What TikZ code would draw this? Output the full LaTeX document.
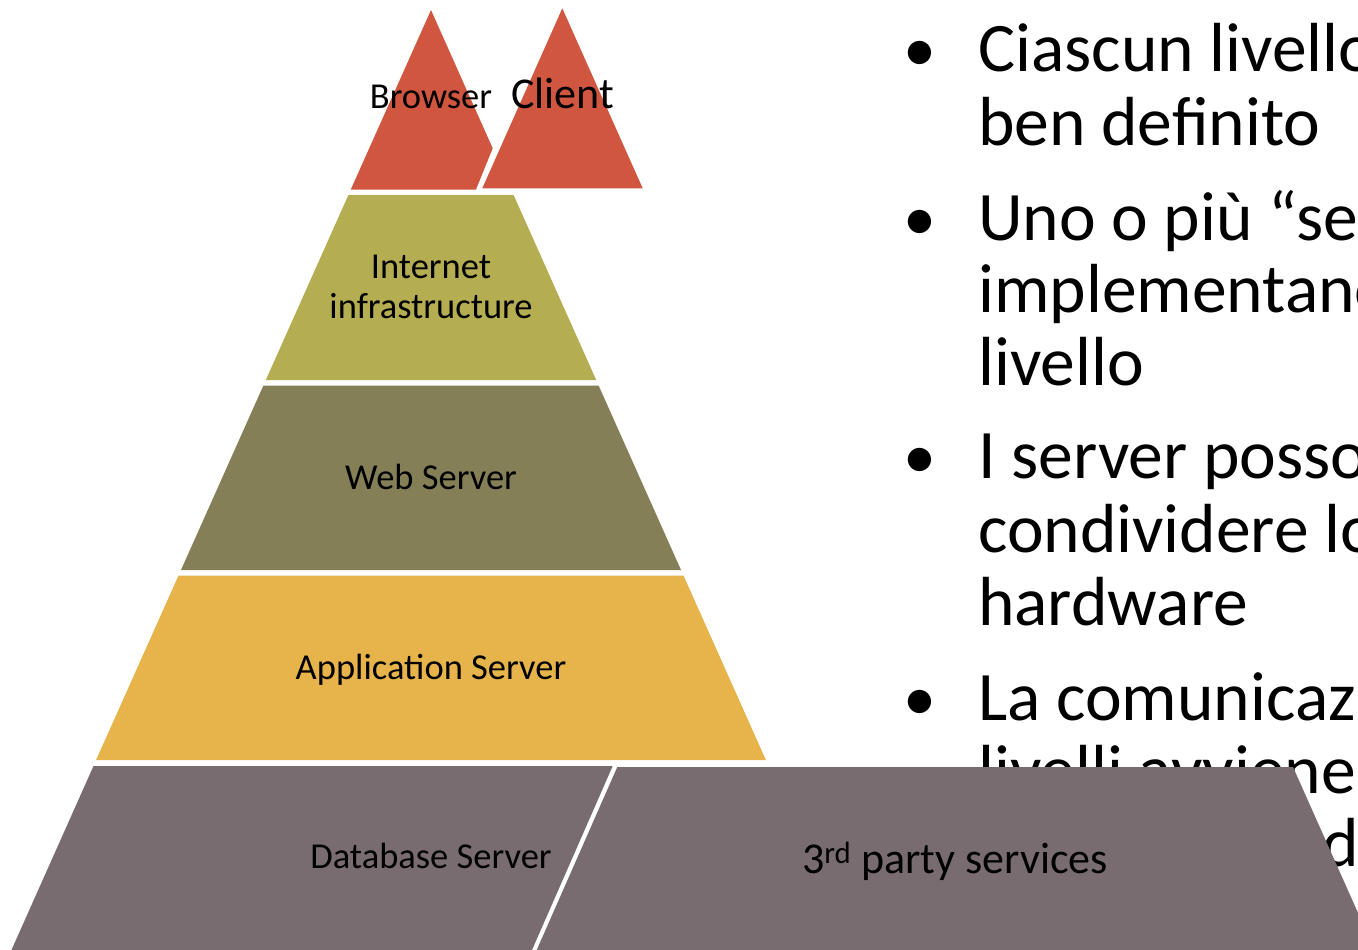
\documentclass[tikz,border=0pt]{standalone}
\usepackage{fontspec}
\setmainfont{Carlito}
\definecolor{tierred}{RGB}{208,86,64}
\definecolor{tierolive}{RGB}{181,173,82}
\definecolor{tierweb}{RGB}{132,127,86}
\definecolor{tiergold}{RGB}{231,180,76}
\definecolor{tiermauve}{RGB}{121,108,112}
\begin{document}
\begin{tikzpicture}[x=1pt,y=-1pt,
  lbl/.style={inner sep=0pt, anchor=base, text=black, font=\fontsize{36.5}{40}\selectfont},
  biglbl/.style={lbl, font=\fontsize{44}{48}\selectfont},
  bodytext/.style={inner sep=0pt, anchor=base west, text=black, font=\fontsize{69.5}{73}\selectfont},
  dot/.style={bodytext, font=\fontsize{66}{72}\selectfont},
]
\useasboundingbox (0,0) rectangle (1358,950);
\clip (0,0) rectangle (1358,950);

% bulleted text, set behind the tier shapes
\node[dot] (b1) at (903,72) {•};
\node[bodytext] (t1a) at (978,72) {Ciascun livello};
\node[bodytext] (t1b) at (978,145) {ben definito};
\node[dot] (b2) at (903,240) {•};
\node[bodytext] (t2a) at (978,240) {Uno o più “server”};
\node[bodytext] (t2b) at (978,312) {implementano};
\node[bodytext] (t2c) at (978,385) {livello};
\node[dot] (b3) at (903,478) {•};
\node[bodytext] (t3a) at (978,478) {I server possono};
\node[bodytext] (t3b) at (978,552) {condividere lo};
\node[bodytext] (t3c) at (978,625) {hardware};
\node[dot] (b4) at (903,720) {•};
\node[bodytext] (t4a) at (978,720) {La comunicazione};
\node[bodytext] (t4b) at (978,793) {livelli avviene};
\node[bodytext] (t4c) at (978,866) {secondo modalità ben definite};

% client tier: browser and client
\fill[tierred] (431,10) -- (492.7,148.3) -- (476,189.5) -- (350.8,189.5) -- cycle;
\fill[tierred] (562.3,8.3) -- (642.7,188.3) -- (482.3,188.3) -- cycle;

% pyramid tiers
\fill[tierolive] (348.4,195) -- (513.6,195) -- (596.2,380) -- (265.8,380) -- cycle;
\fill[tierweb] (263.4,385.5) -- (598.6,385.5) -- (681,570) -- (181,570) -- cycle;
\fill[tiergold] (178.5,575.5) -- (683.5,575.5) -- (765.9,760) -- (96.1,760) -- cycle;
\fill[tiermauve] (93.5,766) -- (612.7,766) -- (527.6,960) -- (7,960) -- cycle;
\fill[tiermauve] (617.3,767) -- (1293,767) -- (1379,960) -- (532.3,960) -- cycle;

% tier labels
\node[lbl] (browser) at (431,108) {Browser};
\node[biglbl] (client) at (562.5,109) {Client};
\node[lbl] (inet1) at (431,278) {Internet};
\node[lbl] (inet2) at (431,318) {infrastructure};
\node[lbl] (web) at (431,489) {Web Server};
\node[lbl] (app) at (431,679) {Application Server};
\node[lbl] (db) at (431,868) {Database Server};
\node[biglbl] (third) at (955,873) {3\textsuperscript{rd} party services};
\end{tikzpicture}
\end{document}
